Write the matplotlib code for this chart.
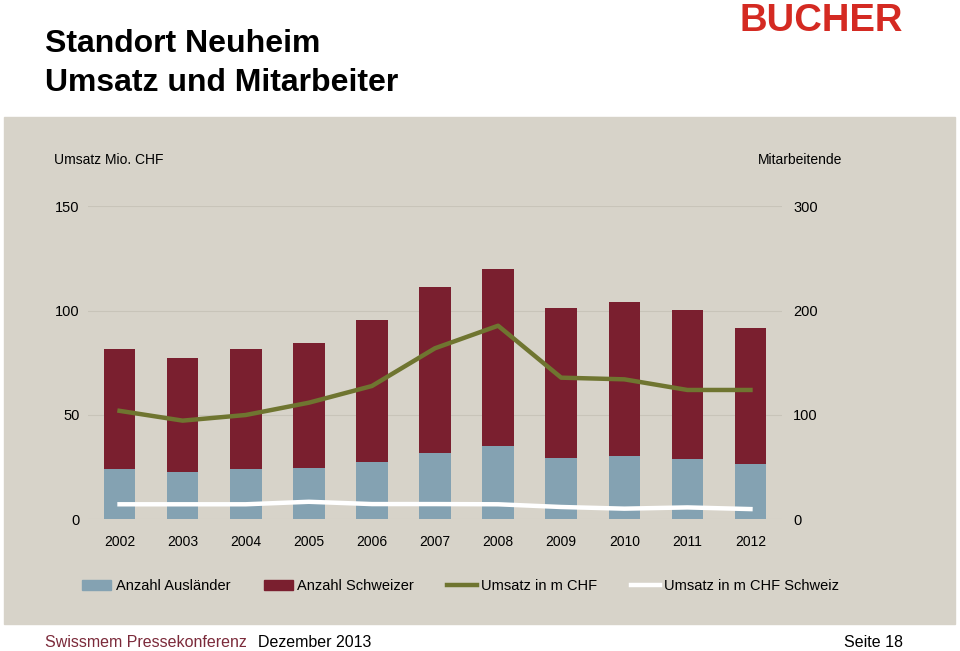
import matplotlib.pyplot as plt
from matplotlib.patches import Rectangle, Patch
from matplotlib.lines import Line2D

plt.rcParams['font.family'] = ['Liberation Sans', 'DejaVu Sans']

COLORS = ["#84a2b2", "#7a1f2f", "#6f7530", "#ffffff"]
BG = "#d7d3c9"
GRID = "#c8c4b9"

years = ['2002', '2003', '2004', '2005', '2006', '2007', '2008', '2009', '2010', '2011', '2012']
auslaender = [48, 45, 48, 49, 55, 64, 70, 59, 61, 58, 53]
total_ma = [163, 155, 163, 169, 191, 223, 240, 203, 208, 201, 183]
schweizer = [t - a for t, a in zip(total_ma, auslaender)]
umsatz = [52, 47.3, 50, 55.9, 63.9, 82, 92.8, 67.9, 67.1, 62, 62]
umsatz_ch = [7.2, 7.2, 7.2, 8.4, 7.3, 7.3, 7.2, 5.9, 5.1, 5.7, 4.9]

# CREATING FIGURE
fig = plt.figure(figsize=(9.6, 6.51), dpi=100)
fig.patch.set_facecolor('w')

# GREY PANEL (behind the axes)
fig.patches.append(Rectangle((4/960, 1-624/651), 951/960, 507/651,
                             transform=fig.transFigure, color=BG, zorder=-5))

# AXES: bars on employee scale (right), lines on revenue scale (left)
ax = fig.add_axes([88/960, 1-519.3/651, 694/960, 312.9/651])
ax.set_facecolor('none')
x = list(range(len(years)))
ax.bar(x, auslaender, width=0.5, color=COLORS[0], zorder=2)
ax.bar(x, schweizer, width=0.5, bottom=auslaender, color=COLORS[1], zorder=2)
ax.set_ylim(0, 300)
ax.set_xlim(-0.5, len(years)-0.5)
ax.set_yticks([0, 100, 200, 300])
ax.grid(axis='y', color=GRID, linewidth=0.8, zorder=0)
ax.set_axisbelow(True)

ax2 = ax.twinx()
ax2.set_facecolor('none')
ax2.plot(x, umsatz, color=COLORS[2], linewidth=3.2, zorder=3)
ax2.plot(x, umsatz_ch, color=COLORS[3], linewidth=3.2, zorder=3)
ax2.set_ylim(0, 150)
ax2.set_yticks([0, 50, 100, 150])

# swap sides: revenue on the left, employees on the right
ax.yaxis.tick_right()
ax2.yaxis.tick_left()
ax.tick_params(axis='y', labelleft=False, labelright=True)
ax2.tick_params(axis='y', labelleft=True, labelright=False)

for a in (ax, ax2):
    for s in a.spines.values():
        s.set_visible(False)
    a.tick_params(length=0, labelsize=10.5)
ax.tick_params(axis='y', pad=8)
ax2.tick_params(axis='y', pad=6)
ax.set_xticks(x)
ax.set_xticklabels(years, fontsize=10)
ax.tick_params(axis='x', pad=11)

# AXIS TITLES
fig.text(54/960, 1-160/651, 'Umsatz Mio. CHF', fontsize=10, va='center', ha='left')
fig.text(842/960, 1-160/651, 'Mitarbeitende', fontsize=10, va='center', ha='right')

# LEGEND
handles = [
    Patch(color=COLORS[0]),
    Patch(color=COLORS[1]),
    Line2D([], [], color=COLORS[2], linewidth=3.2),
    Line2D([], [], color=COLORS[3], linewidth=3.2),
]
labels = ['Anzahl Ausländer', 'Anzahl Schweizer', 'Umsatz in m CHF', 'Umsatz in m CHF Schweiz']
fig.legend(handles, labels, loc='center left', bbox_to_anchor=(82/960, 1-586/651),
           ncol=4, frameon=False, fontsize=10.5, handlelength=2.0, handleheight=0.7,
           handletextpad=0.3, columnspacing=2.3, borderaxespad=0, borderpad=0)

# TITLES
fig.text(45/960, 1-52/651, 'Standort Neuheim', fontsize=23, fontweight='bold', va='baseline')
fig.text(45/960, 1-91/651, 'Umsatz und Mitarbeiter', fontsize=23, fontweight='bold', va='baseline')

# LOGO
fig.text(821/960, 1-31/651, 'BUCHER', fontsize=27.5, fontweight='bold', color='#d42a22',
         ha='center', va='baseline')

# FOOTER
fig.text(45/960, 1-647/651, 'Swissmem Pressekonferenz', fontsize=11.5, color='#7b2a3a', va='baseline')
fig.text(258/960, 1-647/651, 'Dezember 2013', fontsize=11.5, color='black', va='baseline')
fig.text(903/960, 1-647/651, 'Seite 18', fontsize=11.5, color='black', va='baseline', ha='right')

plt.savefig('out.png', dpi=100)
